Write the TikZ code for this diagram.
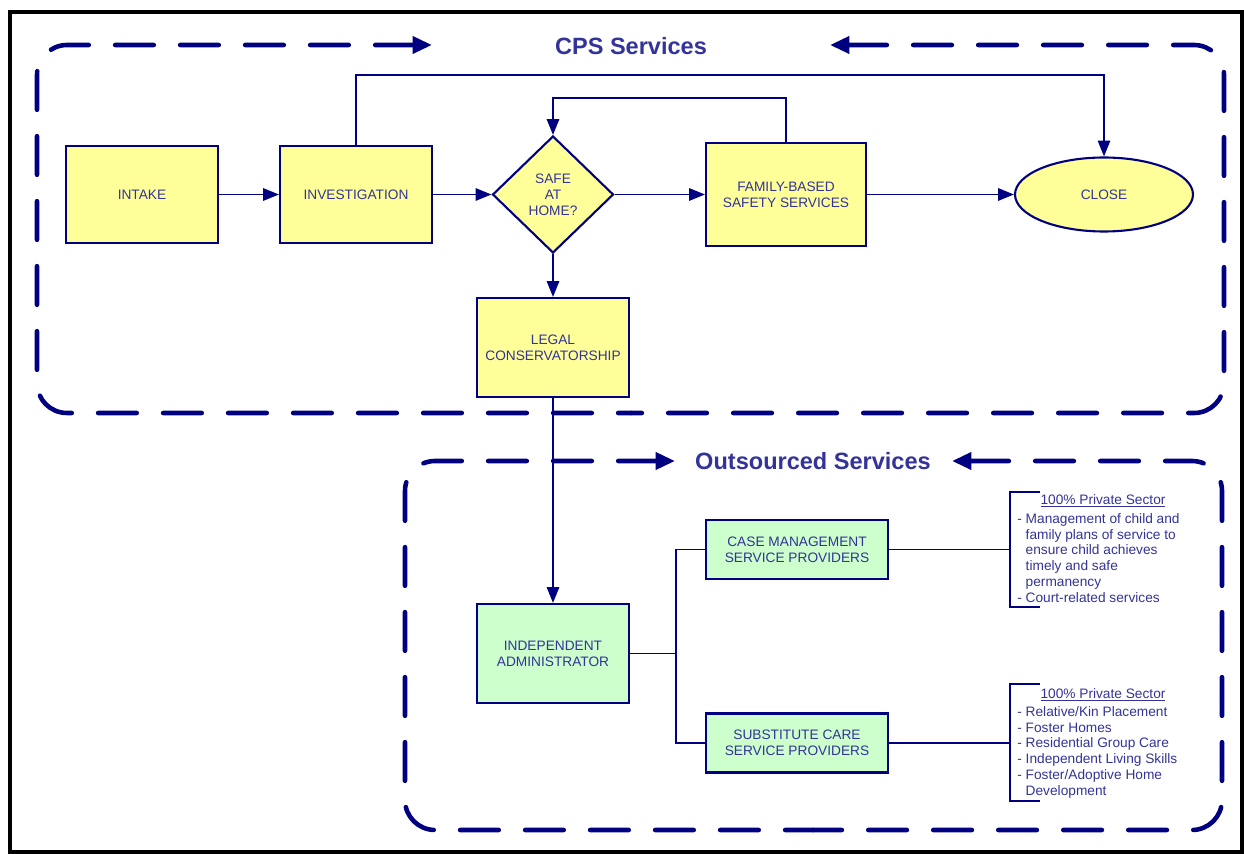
\documentclass[tikz,border=0pt]{standalone}
\usepackage{fontspec}
\setmainfont{Liberation Sans}
\usetikzlibrary{arrows.meta,shapes.geometric,positioning}
\definecolor{navy}{HTML}{000080}
\definecolor{txtblue}{HTML}{333399}
\definecolor{boxyellow}{HTML}{FFFF99}
\definecolor{boxgreen}{HTML}{CCFFCC}

\begin{document}
\begin{tikzpicture}[x=0.02cm, y=-0.02cm,
  font=\fontsize{7.8}{9}\selectfont, text=txtblue,
  flowbox/.style={draw=navy, line width=1.2pt, fill=boxyellow, align=center, inner sep=0pt,
    minimum width=3.04cm, minimum height=1.94cm},
  decision/.style={flowbox, shape=diamond, minimum width=2.42cm, minimum height=2.34cm},
  endstate/.style={flowbox, shape=ellipse, minimum width=3.56cm, minimum height=1.48cm},
  provider/.style={flowbox, fill=boxgreen, minimum width=3.64cm, minimum height=1.18cm},
  link/.style={draw=navy, line width=1.1pt},
  arr/.style={link, -{Triangle[length=9pt,width=7pt]}},
  dashframe/.style={draw=navy, line width=2.6pt, line cap=round, dash pattern=on 22pt off 15pt,
    rounded corners=0.6cm, {Triangle[length=11pt,width=9.5pt]}-},
  heading/.style={font=\fontsize{13.4}{16}\selectfont\bfseries},
  sector/.style={inner sep=0pt},
  itemlist/.style={inner sep=0pt, anchor=north west, align=left}]
  \useasboundingbox (0,0) rectangle (1244,854);
  \draw[line width=2.8pt] (10,12) rectangle (1242,852);

  % CPS services
  \draw[dashframe] (432,45) -- (37,45) -- (37,413) -- (631,413);
  \draw[dashframe] (830,45) -- (1224,45) -- (1224,413) -- (631,413);
  \node[heading] (cpstitle) at (631,46) {CPS Services};

  \node[flowbox] (intake) at (142,194.5) {INTAKE};
  \node[flowbox] (invest) at (356,194.5) {INVESTIGATION};
  \node[decision] (safe) at (553,194.5) {SAFE\\AT\\HOME?};
  \node[flowbox, minimum width=3.2cm, minimum height=2.06cm] (family) at (786,194.5) {FAMILY-BASED\\SAFETY SERVICES};
  \node[endstate] (close) at (1104,194.5) {CLOSE};
  \node[flowbox, minimum height=1.98cm] (legal) at (553,347.5) {LEGAL\\CONSERVATORSHIP};

  \draw[arr] (intake) -- (invest);
  \draw[arr] (invest) -- (safe);
  \draw[arr] (safe) -- (family);
  \draw[arr] (family) -- (close);
  \draw[arr] (invest.north) -- ++(0,-70) -| (close.north);
  \draw[arr] (family.north) -- ++(0,-44) -| (safe.north);
  \draw[arr] (safe) -- (legal);

  % outsourced services
  \draw[dashframe] (675,461) -- (405,461) -- (405,830) -- (813,830);
  \draw[dashframe] (952,461) -- (1222,461) -- (1222,830) -- (813,830);
  \node[heading] (outtitle) at (813,461) {Outsourced Services};

  \node[flowbox, fill=boxgreen, minimum height=1.98cm] (admin) at (553,653.5) {INDEPENDENT\\ADMINISTRATOR};
  \node[provider] (casemgmt) at (797,549.5) {CASE MANAGEMENT\\SERVICE PROVIDERS};
  \node[provider] (subcare) at (797,743) {SUBSTITUTE CARE\\SERVICE PROVIDERS};

  \draw[arr] (legal) -- (admin);
  \draw[link] (admin.east) -- ++(46,0) coordinate (fork) |- (casemgmt.west);
  \draw[link] (fork) |- (subcare.west);

  \coordinate (br1) at (1010,549.5);
  \coordinate (br2) at (1010,743);
  \draw[link] (casemgmt.east) -- (br1);
  \draw[link] (subcare.east) -- (br2);
  \draw[link] (1040,492) -- (1010,492) -- (1010,607) -- (1040,607);
  \draw[link] (1040,684) -- (1010,684) -- (1010,801) -- (1040,801);

  \node[sector] (pvt1) at (1103,501) {\underline{100\% Private Sector}};
  \node[itemlist] (list1) at (1017,513) {- Management of child and\\\phantom{- }family plans of service to\\\phantom{- }ensure child achieves\\\phantom{- }timely and safe\\\phantom{- }permanency\\- Court-related services};
  \node[sector] (pvt2) at (1103,695) {\underline{100\% Private Sector}};
  \node[itemlist] (list2) at (1017,706) {- Relative/Kin Placement\\- Foster Homes\\- Residential Group Care\\- Independent Living Skills\\- Foster/Adoptive Home\\\phantom{- }Development};
\end{tikzpicture}
\end{document}
